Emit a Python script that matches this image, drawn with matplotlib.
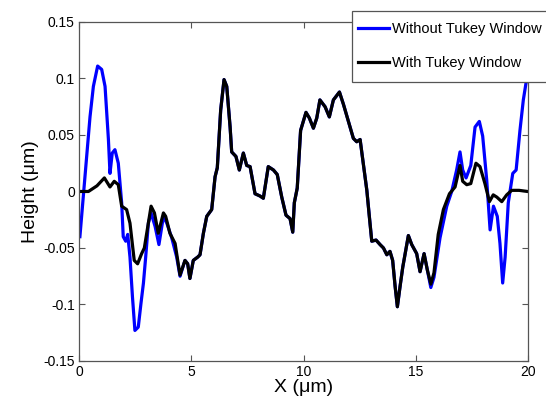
import matplotlib
matplotlib.use('Agg')
import matplotlib.pyplot as plt
from matplotlib.patches import Rectangle
import numpy as np

plt.rcParams['font.family'] = ['Liberation Sans', 'DejaVu Sans']

# black curve (with Tukey window)
with_x = [0.04, 0.42, 0.80, 1.13, 1.38, 1.57, 1.75, 1.90, 2.12, 2.27, 2.46, 2.61,
          2.79, 2.91, 3.21, 3.36, 3.53, 3.76, 3.86, 4.05, 4.28, 4.42, 4.50, 4.72,
          4.84, 4.94, 5.09, 5.29, 5.39, 5.54, 5.69, 5.91, 6.06, 6.16, 6.31, 6.46,
          6.58, 6.73, 6.80, 6.99, 7.14, 7.32, 7.47, 7.62, 7.84, 8.06, 8.21, 8.43,
          8.66, 8.83, 9.03, 9.22, 9.40, 9.52, 9.59, 9.72, 9.87, 10.11, 10.26, 10.44,
          10.59, 10.73, 10.96, 11.15, 11.33, 11.60, 11.78, 12.00, 12.22, 12.37, 12.52,
          12.66, 12.82, 12.93, 13.04, 13.23, 13.41, 13.56, 13.71, 13.85, 13.97, 14.08,
          14.18, 14.30, 14.42, 14.67, 14.82, 15.04, 15.19, 15.37, 15.51, 15.67, 15.81,
          16.00, 16.23, 16.50, 16.75, 16.97, 17.09, 17.27, 17.45, 17.68, 17.86, 18.08,
          18.28, 18.45, 18.61, 18.83, 19.05, 19.27, 19.60, 19.98]
with_y = [0.000, 0.000, 0.005, 0.012, 0.004, 0.009, 0.006, -0.013, -0.016, -0.028, -0.061, -0.064,
          -0.055, -0.050, -0.013, -0.019, -0.037, -0.019, -0.022, -0.037, -0.046, -0.064, -0.074, -0.061,
          -0.064, -0.077, -0.061, -0.058, -0.056, -0.037, -0.022, -0.016, 0.013, 0.021, 0.072, 0.099,
          0.093, 0.057, 0.035, 0.031, 0.019, 0.034, 0.023, 0.022, -0.002, -0.004, -0.006, 0.022,
          0.019, 0.015, -0.005, -0.021, -0.024, -0.036, -0.010, 0.003, 0.054, 0.070, 0.065, 0.056,
          0.065, 0.081, 0.075, 0.066, 0.081, 0.088, 0.077, 0.062, 0.047, 0.044, 0.046,
          0.025, 0.001, -0.022, -0.044, -0.043, -0.047, -0.050, -0.056, -0.053, -0.061, -0.084,
          -0.102, -0.084, -0.067, -0.039, -0.047, -0.055, -0.071, -0.055, -0.069, -0.082, -0.072,
          -0.038, -0.016, -0.002, 0.004, 0.023, 0.009, 0.006, 0.007, 0.025, 0.022, 0.007,
          -0.009, -0.003, -0.005, -0.009, -0.003, 0.001, 0.001, 0.000]

# blue curve (without window) where it leaves the black one
left_x = [0.04, 0.19, 0.34, 0.49, 0.64, 0.83, 1.01, 1.16, 1.31, 1.38, 1.48, 1.60,
          1.75, 1.90, 1.97, 2.08, 2.17, 2.27, 2.38, 2.49, 2.64, 2.76, 2.87, 2.97,
          3.09, 3.21, 3.39, 3.56, 3.76, 3.91, 4.13, 4.35, 4.50]
left_y = [-0.040, -0.005, 0.031, 0.066, 0.093, 0.111, 0.108, 0.093, 0.046, 0.016, 0.034, 0.037,
          0.025, -0.010, -0.040, -0.044, -0.038, -0.058, -0.093, -0.123, -0.120, -0.099, -0.081, -0.058,
          -0.028, -0.019, -0.031, -0.047, -0.022, -0.028, -0.041, -0.058, -0.075]
right_x = [15.67, 15.81, 16.08, 16.38, 16.60, 16.82, 16.97, 17.09, 17.24, 17.45, 17.64, 17.83,
           17.98, 18.16, 18.31, 18.46, 18.63, 18.75, 18.87, 18.98, 19.12, 19.32, 19.47, 19.64,
           19.79, 19.91, 20.0]
right_y = [-0.085, -0.076, -0.041, -0.013, 0.000, 0.019, 0.035, 0.019, 0.012, 0.023, 0.057, 0.062,
           0.049, 0.010, -0.034, -0.013, -0.022, -0.046, -0.081, -0.058, -0.010, 0.016, 0.019, 0.054,
           0.081, 0.096, 0.099]

wx = np.array(with_x)
wy = np.array(with_y)
mid = (wx > left_x[-1]) & (wx < right_x[0])
without_x = np.concatenate([left_x, wx[mid], right_x])
without_y = np.concatenate([left_y, wy[mid], right_y])

fig = plt.figure(figsize=(5.46, 4.01), dpi=100)
ax = fig.add_axes([0.1447, 0.0998, 0.8224, 0.8454])

ax.plot(without_x, without_y, color='#0000ff', lw=2.3, label='Without Tukey Window')
ax.plot(wx, wy, color='black', lw=2.3, label='With Tukey Window')

ax.set_xlim(0, 20)
ax.set_ylim(-0.15, 0.15)
ax.set_xticks([0, 5, 10, 15, 20])
ax.set_xticklabels(['0', '5', '10', '15', '20'])
yt = [-0.15, -0.1, -0.05, 0, 0.05, 0.1, 0.15]
ax.set_yticks(yt)
ax.set_yticklabels(['-0.15', '-0.1', '-0.05', '0', '0.05', '0.1', '0.15'])
ax.tick_params(direction='in', top=True, right=True, length=4, width=0.8,
               color='#555555', labelsize=10, pad=3)
for s in ax.spines.values():
    s.set_color('#555555')
    s.set_linewidth(0.9)

ax.set_xlabel('X (μm)', fontsize=14, labelpad=0)
ax.set_ylabel('Height (μm)', fontsize=14, labelpad=3)

# legend box runs off the right edge of the figure, like the original
box = Rectangle((352 / 546, 1 - 82 / 401), 0.4, 71 / 401, transform=fig.transFigure,
                facecolor='white', edgecolor='#555555', lw=0.9, zorder=5)
fig.add_artist(box)
handles, labels = ax.get_legend_handles_labels()
leg = fig.legend(handles, labels, loc='upper left', bbox_to_anchor=(358 / 546, 1 - 22 / 401),
                 fontsize=10.5, frameon=False, borderpad=0, labelspacing=1.4,
                 handlelength=2.1, handletextpad=0.2, borderaxespad=0)
leg.set_zorder(6)

fig.savefig('out.png', dpi=100)
